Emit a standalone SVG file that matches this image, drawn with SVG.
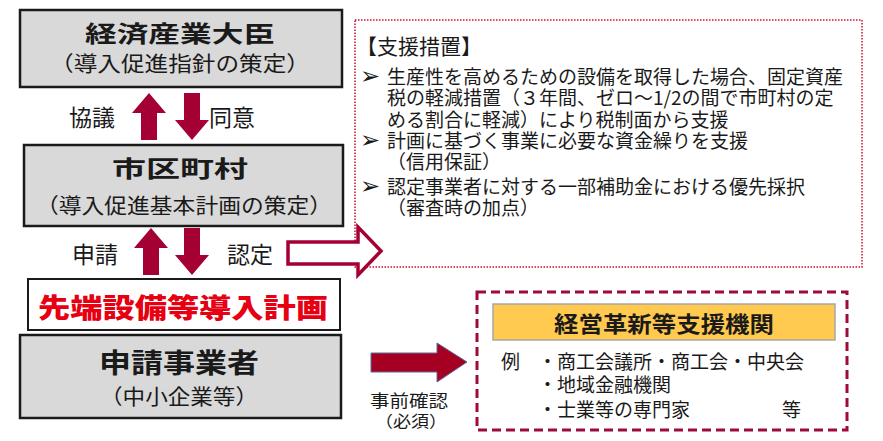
<svg xmlns="http://www.w3.org/2000/svg" width="883" height="441" viewBox="0 0 883 441">
<style>
text{font-family:"Noto Sans CJK JP","Noto Sans CJK SC",sans-serif;fill:#1a1a1a}
.gbox{fill:#d9d9d9;stroke:#1a1a1a;stroke-width:2.5}
.t1{font-size:23px;font-weight:700;text-anchor:middle}
.t2{font-size:21px;text-anchor:middle}
.lbl{font-size:23px}
.body{font-size:19px}
.bul{font-size:24px;font-family:"DejaVu Sans",sans-serif}
.arr{fill:#a50034}
</style>
<rect width="883" height="441" fill="#fff"/>
<g id="minister">
<rect class="gbox" x="20" y="10" width="322" height="77"/>
<text class="t1" x="180" y="42" textLength="190" lengthAdjust="spacingAndGlyphs">経済産業大臣</text>
<text class="t2" x="180" y="71" textLength="260" lengthAdjust="spacingAndGlyphs">（導入促進指針の策定）</text>
</g>
<g id="municipality">
<rect class="gbox" x="24" y="145" width="319" height="81"/>
<text class="t1" x="180" y="177" textLength="136" lengthAdjust="spacingAndGlyphs">市区町村</text>
<text class="t2" x="184" y="213" textLength="296" lengthAdjust="spacingAndGlyphs">（導入促進基本計画の策定）</text>
</g>
<g id="plan">
<rect x="28" y="279" width="312" height="51" fill="#fff" stroke="#1a1a1a" stroke-width="2"/>
<text x="183" y="318" textLength="290" lengthAdjust="spacingAndGlyphs" style="font-size:27px;font-weight:900;fill:#e60012;text-anchor:middle">先端設備等導入計画</text>
</g>
<g id="applicant">
<rect class="gbox" x="20" y="335" width="321" height="83"/>
<text class="t1" x="179" y="373" textLength="160" lengthAdjust="spacingAndGlyphs" style="font-size:27px">申請事業者</text>
<text class="t2" x="179" y="404" textLength="158" lengthAdjust="spacingAndGlyphs">（中小企業等）</text>
</g>
<g id="support">
<rect x="355" y="20" width="507" height="247" fill="#fff" stroke="#c8102e" stroke-width="1.5" stroke-dasharray="1.5,1.5"/>
<text x="356" y="54" style="font-size:21px">【支援措置】</text>
<text class="bul" x="360" y="84">➢</text>
<text class="body" x="387" y="84">生産性を高めるための設備を取得した場合、固定資産</text>
<text class="body" x="387" y="105">税の軽減措置（３年間、ゼロ～1/2の間で市町村の定</text>
<text class="body" x="387" y="127">める割合に軽減）により税制面から支援</text>
<text class="bul" x="360" y="148">➢</text>
<text class="body" x="387" y="148">計画に基づく事業に必要な資金繰りを支援</text>
<text class="body" x="387" y="169">（信用保証）</text>
<text class="bul" x="360" y="194">➢</text>
<text class="body" x="387" y="194">認定事業者に対する一部補助金における優先採択</text>
<text class="body" x="387" y="215">（審査時の加点）</text>
</g>
<g id="agencies">
<rect x="477" y="292" width="370" height="138" fill="#fff" stroke="#9e0a3c" stroke-width="3" stroke-dasharray="9,5"/>
<rect x="493" y="304" width="342" height="36" fill="#ffca4f" stroke="#a6a6a6" stroke-width="1.5"/>
<text x="664" y="332" textLength="220" lengthAdjust="spacingAndGlyphs" style="font-size:22px;font-weight:700;text-anchor:middle">経営革新等支援機関</text>
<text class="body" x="501" y="369">例</text>
<text class="body" x="538" y="369">・商工会議所・商工会・中央会</text>
<text class="body" x="538" y="392">・地域金融機関</text>
<text class="body" x="538" y="417">・士業等の専門家</text>
<text class="body" x="782" y="417">等</text>
</g>
<g id="connectors">
<path class="arr" d="M141,140 V113 H132 L149,93 L166,113 H157 V140 Z"/>
<path class="arr" d="M184,93 V120 H175 L192,140 L209,120 H200 V93 Z"/>
<text class="lbl" x="69" y="126">協議</text>
<text class="lbl" x="209" y="126">同意</text>
<path class="arr" d="M143,275 V248 H134 L151,228 L168,248 H159 V275 Z"/>
<path class="arr" d="M184,228 V255 H175 L192,275 L209,255 H200 V228 Z"/>
<text class="lbl" x="72" y="263">申請</text>
<text class="lbl" x="227" y="263">認定</text>
<path d="M288,242 H358 V227 L381,251 L358,275 V264 H288 Z" fill="#fff" stroke="#a50034" stroke-width="3.5" stroke-linejoin="miter"/>
<path d="M371,353 H437 V343 L467,362 L437,382 V372 H371 Z" fill="#a50021" stroke="#5b6a9a" stroke-width="1"/>
<text x="409" y="407" textLength="78" lengthAdjust="spacingAndGlyphs" style="font-size:17px;text-anchor:middle">事前確認</text>
<text x="411" y="427" textLength="72" lengthAdjust="spacingAndGlyphs" style="font-size:16px;text-anchor:middle">（必須）</text>
</g>
</svg>
